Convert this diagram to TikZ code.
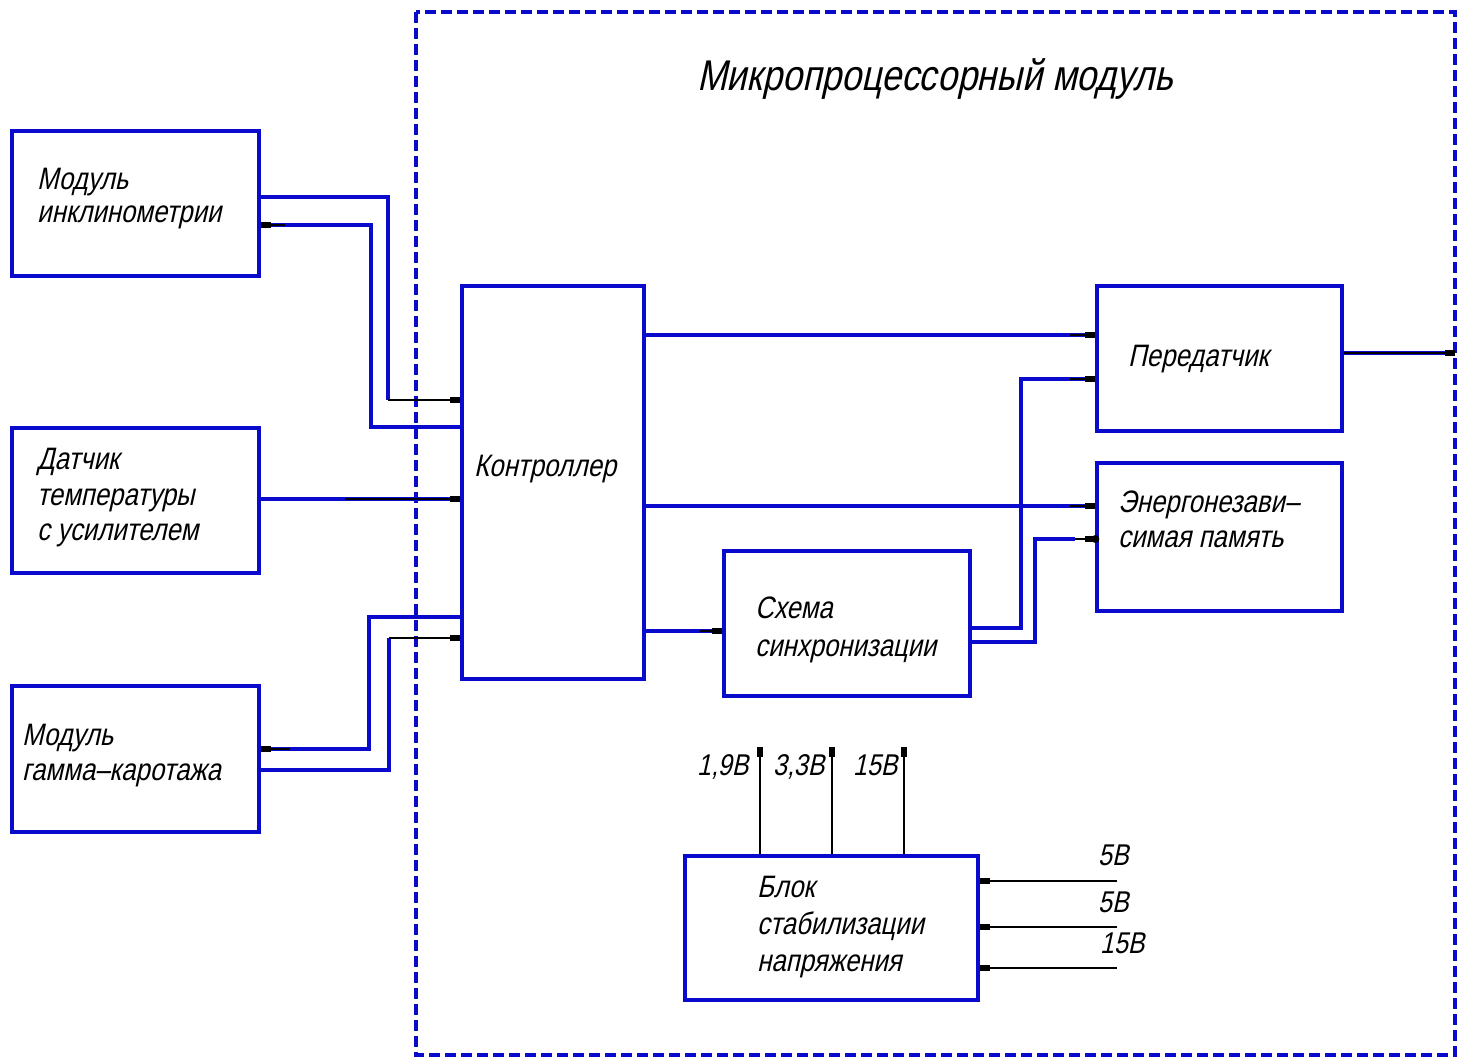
\documentclass[tikz,border=0pt]{standalone}
\usepackage{fontspec}
\newfontfamily\gost[FakeSlant=0.22,FakeStretch=0.83]{Liberation Sans}
\usetikzlibrary{arrows.meta}
\definecolor{gblue}{RGB}{10,10,205}
\begin{document}
\begin{tikzpicture}[x=1pt,y=-1pt,
  blk/.style={draw=gblue,line width=3.2pt,rectangle,inner sep=0pt},
  lbl/.style={anchor=base west,inner sep=0pt,font=\gost\fontsize{31}{31}\selectfont},
  vlbl/.style={anchor=base west,inner sep=0pt,font=\gost\fontsize{30}{30}\selectfont},
  wire/.style={draw=gblue,line width=3.2pt},
  thin/.style={draw=black,line width=1.4pt},
  tip/.style={-{Rectangle[length=10pt,width=6pt,color=black]}}]
\useasboundingbox (0,0) rectangle (1458,1061);
% frame
\draw[gblue,line width=3.4pt,dash pattern=on 11pt off 5pt] (416,12) rectangle (1455,1055);
\node[lbl,font=\gost\fontsize{43}{43}\selectfont] (title) at (697,90) {Микропроцессорный модуль};
% blocks
\node[blk,minimum width=247pt,minimum height=145pt] (b1) at (135.5,203.5) {};
\node[blk,minimum width=247pt,minimum height=145pt] (b2) at (135.5,500.5) {};
\node[blk,minimum width=247pt,minimum height=146pt] (b3) at (135.5,759) {};
\node[blk,minimum width=182pt,minimum height=393pt] (ctrl) at (553,482.5) {};
\node[blk,minimum width=245pt,minimum height=145pt] (tx) at (1219.5,358.5) {};
\node[blk,minimum width=245pt,minimum height=148pt] (mem) at (1219.5,537) {};
\node[blk,minimum width=246pt,minimum height=145pt] (sync) at (847,623.5) {};
\node[blk,minimum width=293pt,minimum height=144pt] (pwr) at (831.5,928) {};
% labels
\node[lbl] (l1a) at (37,189) {Модуль};
\node[lbl] (l1b) at (37,222) {инклинометрии};
\node[lbl] (l2a) at (37,469) {Датчик};
\node[lbl] (l2b) at (37,505) {температуры};
\node[lbl] (l2c) at (37,540) {с усилителем};
\node[lbl] (l3a) at (22,745) {Модуль};
\node[lbl] (l3b) at (22,780) {гамма–каротажа};
\node[lbl] (lc) at (474,476) {Контроллер};
\node[lbl] (lt) at (1128,366) {Передатчик};
\node[lbl] (lma) at (1118,512) {Энергонезави–};
\node[lbl] (lmb) at (1118,547) {симая память};
\node[lbl] (lsa) at (755,618) {Схема};
\node[lbl] (lsb) at (755,656) {синхронизации};
\node[lbl] (lpa) at (757,897) {Блок};
\node[lbl] (lpb) at (757,934) {стабилизации};
\node[lbl] (lpc) at (757,971) {напряжения};
% left connections
\draw[wire] (b1.east |- 0,197) -| (388,400);
\draw[thin,tip] (388,400) -- (ctrl.west |- 0,400);
\draw[wire] (ctrl.west |- 0,427) -| (371,225) -- (b1.east |- 0,225);
\draw[thin,tip] (285,225) -- (b1.east |- 0,225);
\draw[wire] (b2.east |- 0,499) -- (ctrl.west |- 0,499);
\draw[thin,tip] (345,499) -- (ctrl.west |- 0,499);
\draw[wire] (ctrl.west |- 0,617) -| (369,749) -- (b3.east |- 0,749);
\draw[thin,tip] (290,749) -- (b3.east |- 0,749);
\draw[wire] (b3.east |- 0,770) -| (389,638);
\draw[thin,tip] (389,638) -- (ctrl.west |- 0,638);
% right connections
\draw[wire] (ctrl.east |- 0,335) -- (tx.west |- 0,335);
\draw[thin,tip] (1070,335) -- (tx.west |- 0,335);
\draw[wire] (ctrl.east |- 0,506) -- (mem.west |- 0,506);
\draw[thin,tip] (1070,506) -- (mem.west |- 0,506);
\draw[wire] (ctrl.east |- 0,631) -- (sync.west |- 0,631);
\draw[thin,tip] (700,631) -- (sync.west |- 0,631);
\draw[wire] (sync.east |- 0,628) -| (1021,379) -- (tx.west |- 0,379);
\draw[thin,tip] (1070,379) -- (tx.west |- 0,379);
\draw[wire] (sync.east |- 0,642) -| (1035,539) -- (1075,539);
\draw[thin,tip] (1075,539) -- (mem.west |- 0,539);
\fill (mem.west |- 0,539) circle (4pt);
\coordinate (out) at (1455,353);
\draw[wire] (tx.east |- 0,353) -- (out);
\draw[thin,tip] (tx.east |- 0,353) -- (out);
% power outputs
\coordinate (o1) at (760,747);
\coordinate (o2) at (832,747);
\coordinate (o3) at (904,747);
\draw[thin,tip] (pwr.north -| o1) -- (o1);
\draw[thin,tip] (pwr.north -| o2) -- (o2);
\draw[thin,tip] (pwr.north -| o3) -- (o3);
\node[vlbl] (v1) at (697,775) {1,9В};
\node[vlbl] (v2) at (773,775) {3,3В};
\node[vlbl] (v3) at (853,775) {15В};
% power inputs
\coordinate (i1) at (1117,881);
\coordinate (i2) at (1117,927);
\coordinate (i3) at (1117,968);
\draw[thin,tip] (i1) -- (pwr.east |- i1);
\draw[thin,tip] (i2) -- (pwr.east |- i2);
\draw[thin,tip] (i3) -- (pwr.east |- i3);
\node[vlbl] (u1) at (1098,865) {5В};
\node[vlbl] (u2) at (1098,912) {5В};
\node[vlbl] (u3) at (1100,953) {15В};
\end{tikzpicture}
\end{document}
